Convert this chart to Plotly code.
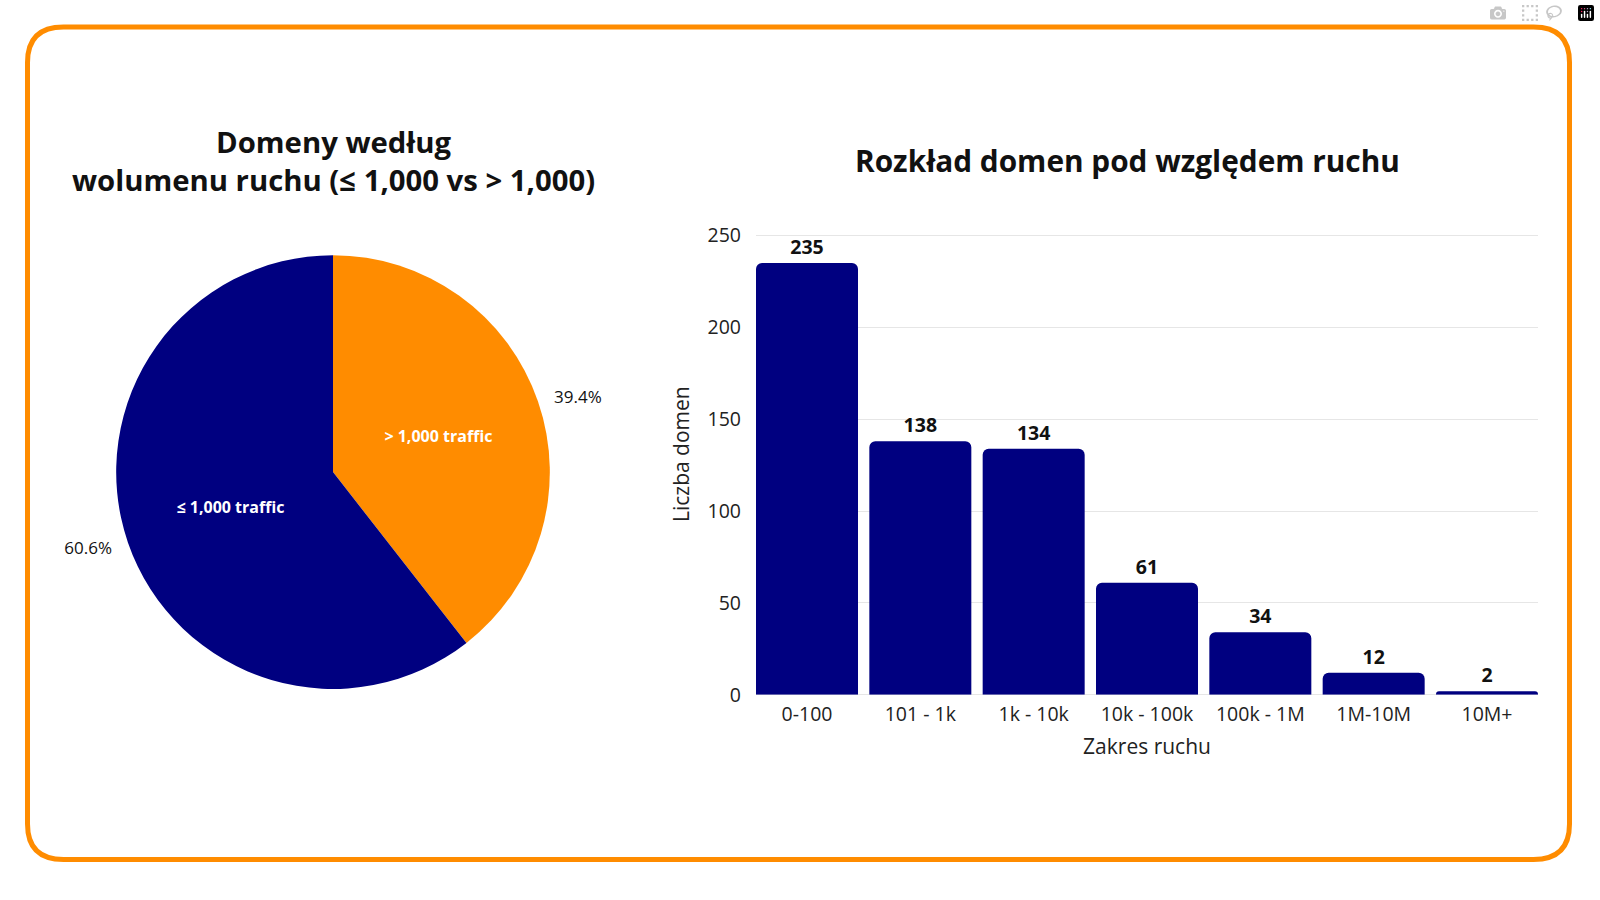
import plotly.graph_objects as go

# ---- data ----
bar_categories = ["0-100", "101 - 1k", "1k - 10k", "10k - 100k", "100k - 1M", "1M-10M", "10M+"]
bar_values = [235, 138, 134, 61, 34, 12, 2]

pie_labels = ["> 1,000 traffic", "≤ 1,000 traffic"]
pie_values = [243, 373]

y_tick_values = [0, 50, 100, 150, 200, 250]

NAVY = "#000080"
ORANGE = "#FF8C00"
FONT = "Open Sans"

W, H = 1600, 900

fig = go.Figure()

# pie domain in pixels -> paper
cx, cy, r = 333, 479, 220
pie_dom_x = [(cx - r) / W, (cx + r) / W]
pie_dom_y = [(H - cy - r) / H, (H - cy + r) / H]
r2 = r + 11
pct_dom_x = [(cx - r2) / W, (cx + r2) / W]
pct_dom_y = [(H - cy - r2) / H, (H - cy + r2) / H]

# inside labels
fig.add_trace(go.Pie(
    labels=pie_labels, values=pie_values, sort=False, direction="clockwise", rotation=0,
    marker=dict(colors=[ORANGE, NAVY], line=dict(width=0)),
    textinfo="label", textposition="inside", insidetextorientation="horizontal",
    insidetextfont=dict(family=FONT, size=16, color="white", weight="bold"),
    domain=dict(x=pie_dom_x, y=pie_dom_y), showlegend=False, hoverinfo="label+percent",
))
# outside percentages (transparent overlay pie)
fig.add_trace(go.Pie(
    labels=pie_labels, values=pie_values, sort=False, direction="clockwise", rotation=0,
    marker=dict(colors=["rgba(0,0,0,0)", "rgba(0,0,0,0)"], line=dict(width=0)),
    textinfo="percent", textposition="outside", texttemplate="%{percent:.1%}",
    outsidetextfont=dict(family=FONT, size=17, color="#111111"),
    domain=dict(x=pct_dom_x, y=pct_dom_y), showlegend=False, hoverinfo="skip",
))

# bar chart
px_left, px_right = 756, 1538
px_zero, px_250 = 705, 239
unit = (px_zero - px_250) / 250.0
y_top_val = 262
px_top = px_zero - y_top_val * unit

fig.add_trace(go.Bar(
    x=bar_categories, y=bar_values,
    marker=dict(color=NAVY, cornerradius=6, line=dict(width=0)),
    text=bar_values, textposition="outside", cliponaxis=False,
    textfont=dict(family=FONT, size=19.5, color="#111111", weight="bold"),
    showlegend=False,
))

# rounded border, pixel coords converted to paper fractions
bx0, by0, bx1, by1, rr = 27.5, 27.5, 1569.5, 872, 36


def P(x, y):
    return f"{x / W:.5f},{1 - y / H:.5f}"


path = (f"M {P(bx0+rr, by0)} L {P(bx1-rr, by0)} Q {P(bx1, by0)} {P(bx1, by0+rr)} "
        f"L {P(bx1, by1-rr)} Q {P(bx1, by1)} {P(bx1-rr, by1)} "
        f"L {P(bx0+rr, by1)} Q {P(bx0, by1)} {P(bx0, by1-rr)} "
        f"L {P(bx0, by0+rr)} Q {P(bx0, by0)} {P(bx0+rr, by0)} Z")

fig.update_layout(
    width=W, height=H, autosize=False,
    margin=dict(l=0, r=0, t=0, b=0, pad=0),
    paper_bgcolor="white", plot_bgcolor="rgba(0,0,0,0)",
    font=dict(family=FONT, size=18, color="#222222"),
    bargap=0.1,
    xaxis=dict(
        domain=[px_left / W, px_right / W], range=[-0.45, 6.45],
        showgrid=False, zeroline=False, showline=False, ticks="", ticklabelstandoff=6,
        tickfont=dict(family=FONT, size=19.5, color="#222222"),
        title=dict(text="Zakres ruchu", font=dict(family=FONT, size=21, color="#222222"), standoff=12),
        fixedrange=True,
    ),
    yaxis=dict(
        domain=[(H - px_zero) / H, (H - px_top) / H], range=[0, y_top_val],
        tickvals=y_tick_values, showgrid=True, gridcolor="#E6E6E6", gridwidth=1,
        zeroline=True, zerolinecolor="#E6E6E6", zerolinewidth=1,
        showline=False, ticks="", ticklabelstandoff=14,
        tickfont=dict(family=FONT, size=19.5, color="#222222"),
        title=dict(text="Liczba domen", font=dict(family=FONT, size=21, color="#222222"), standoff=12),
        fixedrange=True,
    ),
    shapes=[dict(type="path", path=path, xref="paper", yref="paper",
                 line=dict(color=ORANGE, width=5), fillcolor="rgba(0,0,0,0)", layer="above")],
    annotations=[
        dict(text="<b>Domeny według<br>wolumenu ruchu (≤ 1,000 vs > 1,000)</b>",
             x=cx / W, y=(H - 163) / H, xref="paper", yref="paper",
             xanchor="center", yanchor="middle", showarrow=False,
             font=dict(family=FONT, size=29.3, color="#111111")),
        dict(text="<b>Rozkład domen pod względem ruchu</b>",
             x=1127 / W, y=(H - 163) / H, xref="paper", yref="paper",
             xanchor="center", yanchor="middle", showarrow=False,
             font=dict(family=FONT, size=29.8, color="#111111")),
    ],
)

fig.write_html("out.html", post_script="document.body.style.margin='0';document.body.style.overflow='hidden';")
